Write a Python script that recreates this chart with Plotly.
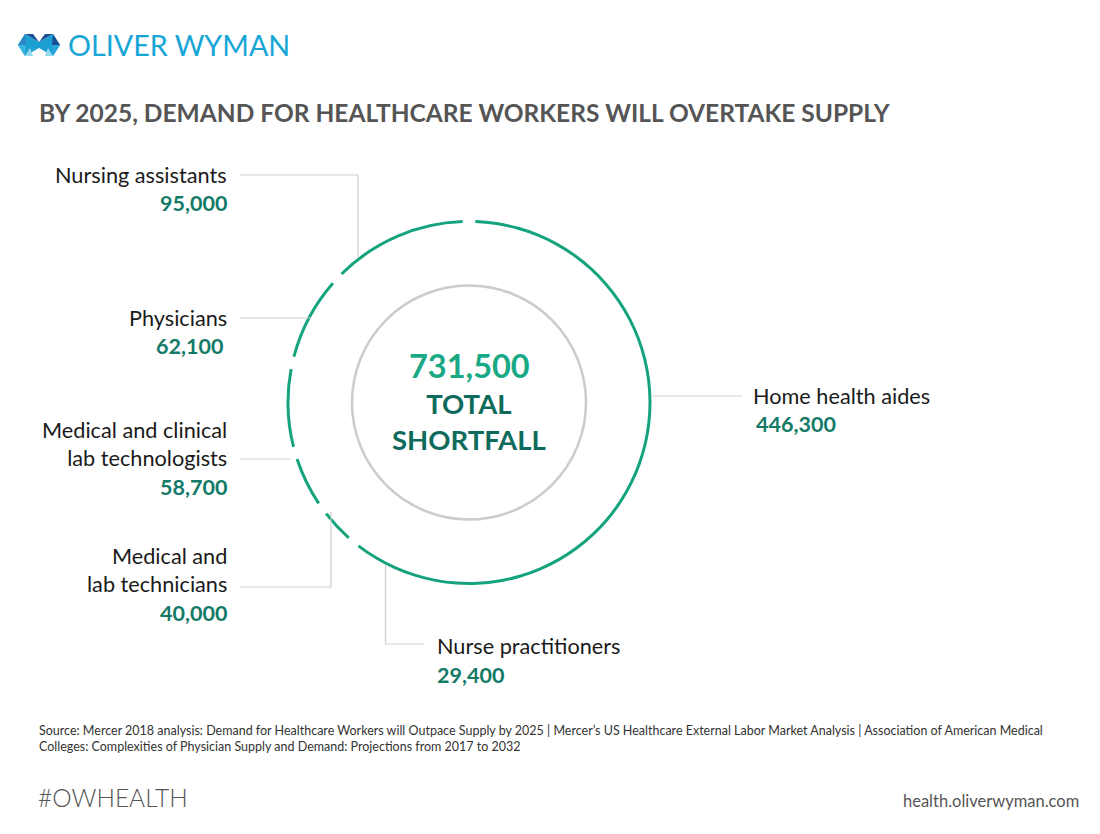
import plotly.graph_objects as go

# ---------------- data ----------------
categories = ["Home health aides", "Nurse practitioners", "Medical and lab technicians",
              "Medical and clinical lab technologists", "Physicians", "Nursing assistants"]
label_lines = ["Home health aides", "Nurse practitioners", "Medical and<br>lab technicians",
               "Medical and clinical<br>lab technologists", "Physicians", "Nursing assistants"]
values = [446300, 29400, 40000, 58700, 62100, 95000]
total_label = "731,500"

title = "BY 2025, DEMAND FOR HEALTHCARE WORKERS WILL OVERTAKE SUPPLY"
source = ("Source: Mercer 2018 analysis: Demand for Healthcare Workers will Outpace Supply by 2025 | "
          "Mercer\u2019s US Healthcare External Labor Market Analysis | Association of American Medical<br>"
          "Colleges: Complexities of Physician Supply and Demand: Projections from 2017 to 2032")

# ---------------- layout helpers ----------------
W, H = 1100, 834
OFF = 8  # page body margin
def px(x): return (x - OFF) / W
def py(y): return 1 - (y - OFF) / H

GREEN = "#15a37e"
TEAL = "#137a68"
DARK_TEAL = "#0e6b5c"
GREY_LINE = "#cfcfcf"
FONT = "Lato"

cx, cy = 469, 402.5
R_DOM = 184
ring_r = 181
gap = 4.0

total = sum(values)
spans = [v / total * 360 for v in values]
starts = []
acc = 0
for s in spans:
    starts.append(acc)
    acc += s
mids = [st + s / 2 for st, s in zip(starts, spans)]
widths = [s - gap for s in spans]

fig = go.Figure()
fig.add_trace(go.Barpolar(
    r=[3] * len(values), base=[ring_r - 1.5] * len(values),
    theta=mids, width=widths,
    marker=dict(color=GREEN, line=dict(width=0)),
    hoverinfo="skip", customdata=categories, showlegend=False,
))

shapes = []
# inner grey circle
ri = 117
shapes.append(dict(type="circle", xref="paper", yref="paper",
                   x0=px(cx - ri), x1=px(cx + ri), y0=py(cy + ri), y1=py(cy - ri),
                   line=dict(color="#cccccc", width=2.5)))

def seg(pts):
    d = "M " + " L ".join(f"{px(x)},{py(y)}" for x, y in pts)
    shapes.append(dict(type="path", xref="paper", yref="paper", path=d,
                       line=dict(color=GREY_LINE, width=1.2)))

# leader lines
seg([(240, 175), (358, 175), (358, 258)])
seg([(240, 318), (311, 318)])
seg([(240, 459), (291, 459)])
seg([(240, 587), (331, 587), (331, 512)])
seg([(385.5, 565), (385.5, 644), (424, 644)])
seg([(652, 396), (742, 396)])

# logo icon
def poly(pts, color):
    d = "M " + " L ".join(f"{px(x)},{py(y)}" for x, y in pts) + " Z"
    shapes.append(dict(type="path", xref="paper", yref="paper", path=d,
                       fillcolor=color, line=dict(width=0)))

poly([(18, 45), (25, 34), (39, 42), (39, 48), (25, 56)], "#1c9fd2")
poly([(25, 34), (33, 34), (39, 42)], "#1b4f93")
poly([(25, 34), (18, 45), (26, 45)], "#2d86c6")
poly([(18, 45), (25, 56), (26, 45)], "#35b5e0")
poly([(25, 56), (33, 56), (30, 48)], "#93d8ef")
poly([(60, 45), (53, 34), (39, 42), (39, 48), (53, 56)], "#1c9fd2")
poly([(53, 34), (45, 34), (39, 42)], "#1b4f93")
poly([(53, 34), (60, 45), (52, 45)], "#1b4f93")
poly([(60, 45), (53, 56), (52, 45)], "#2aa6d8")
poly([(53, 56), (45, 56), (48, 48)], "#93d8ef")

annotations = []
def txt(x, y, text, size, color, anchor="left", bold=False, family=FONT):
    if bold:
        text = f"<b>{text}</b>"
    annotations.append(dict(x=px(x), y=py(y), xref="paper", yref="paper", text=text,
                            showarrow=False, xanchor=anchor, yanchor="middle",
                            align=anchor if anchor != "center" else "center",
                            font=dict(family=family, size=size, color=color)))

LS = 21.7   # label size
VS = 21.5   # value size
txt(66, 45, "OLIVER WYMAN", 28.7, "#16a6d6")
txt(37, 112, title, 24.5, "#555555", bold=True)

val_txt = [f"{v:,}" for v in values]
# Home health aides
txt(751, 396, label_lines[0], LS, "#1a1a1a")
txt(754, 424, val_txt[0], VS, TEAL, bold=True)
# Nurse practitioners
txt(435, 646, label_lines[1], LS, "#1a1a1a")
txt(435, 675, val_txt[1], VS, TEAL, bold=True)
# Medical and lab technicians
txt(229, 570, label_lines[2], LS, "#1a1a1a", anchor="right")
txt(229, 613, val_txt[2], VS, TEAL, bold=True, anchor="right")
# Lab technologists
txt(229, 444, label_lines[3], LS, "#1a1a1a", anchor="right")
txt(229, 487, val_txt[3], VS, TEAL, bold=True, anchor="right")
# Physicians
txt(229, 318, label_lines[4], LS, "#1a1a1a", anchor="right")
txt(225, 346, val_txt[4], VS, TEAL, bold=True, anchor="right")
# Nursing assistants
txt(229, 175, label_lines[5], LS, "#1a1a1a", anchor="right")
txt(229, 203, val_txt[5], VS, TEAL, bold=True, anchor="right")

# center
txt(469, 365, total_label, 32.5, "#1aa985", anchor="center", bold=True)
txt(469, 421, "TOTAL<br>SHORTFALL", 27.5, DARK_TEAL, anchor="center", bold=True)

# footer
txt(37, 738, source, 12.5, "#333333")
txt(36, 797, "#OWHEALTH", 24.5, "#555555", family="Lato Light, Lato")
txt(1081, 801, "health.oliverwyman.com", 16.5, "#555555", anchor="right")

fig.update_layout(
    width=W, height=H,
    margin=dict(l=0, r=0, t=0, b=0),
    paper_bgcolor="white", plot_bgcolor="white",
    polar=dict(
        domain=dict(x=[px(cx - R_DOM), px(cx + R_DOM)], y=[py(cy + R_DOM), py(cy - R_DOM)]),
        bgcolor="white",
        radialaxis=dict(range=[0, R_DOM], visible=False, showgrid=False),
        angularaxis=dict(direction="clockwise", rotation=90, visible=False, showgrid=False),
        bargap=0,
    ),
    shapes=shapes, annotations=annotations,
    showlegend=False,
)

fig.write_html("out.html")
